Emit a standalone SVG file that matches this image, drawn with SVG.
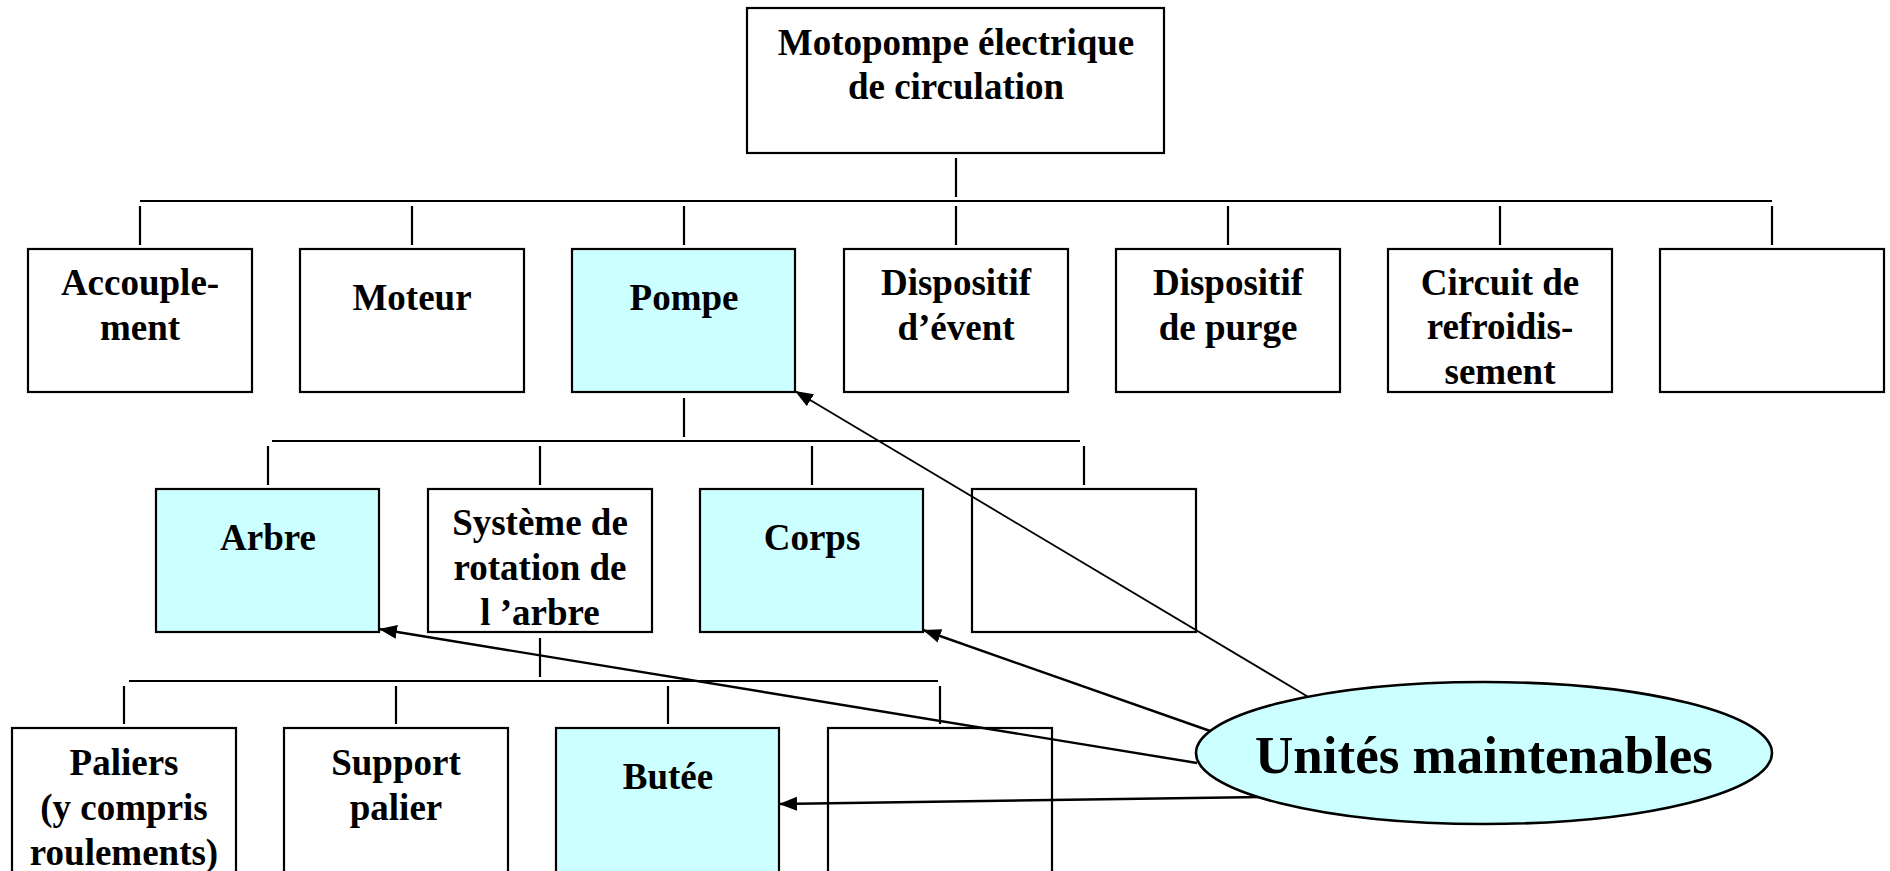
<svg xmlns="http://www.w3.org/2000/svg" width="1890" height="871" viewBox="0 0 1890 871">
<style>
.box{fill:#ffffff;stroke:#000;stroke-width:2.2}
.hl{fill:#ccffff}
.t{font-family:"Liberation Serif","Times New Roman",serif;font-weight:bold;font-size:37px;text-anchor:middle;fill:#000}
.big{font-size:53px}
.ln{stroke:#000;stroke-width:2.2;fill:none}
.ar{stroke:#000;stroke-width:2.4;fill:none;marker-end:url(#ah)}
</style>
<defs>
<marker id="ah" markerUnits="userSpaceOnUse" markerWidth="20" markerHeight="16" refX="18" refY="7" orient="auto">
<path d="M0,0 L18,7 L0,14 z" fill="#000"/>
</marker>
</defs>
<rect width="1890" height="871" fill="#fff"/>

<g id="connectors">
<line class="ln" x1="956" y1="158" x2="956" y2="197"/>
<line class="ln" x1="140" y1="201" x2="1772" y2="201"/>
<line class="ln" x1="140" y1="206" x2="140" y2="245"/>
<line class="ln" x1="412" y1="206" x2="412" y2="245"/>
<line class="ln" x1="684" y1="206" x2="684" y2="245"/>
<line class="ln" x1="956" y1="206" x2="956" y2="245"/>
<line class="ln" x1="1228" y1="206" x2="1228" y2="245"/>
<line class="ln" x1="1500" y1="206" x2="1500" y2="245"/>
<line class="ln" x1="1772" y1="206" x2="1772" y2="245"/>

<line class="ln" x1="684" y1="398" x2="684" y2="437"/>
<line class="ln" x1="272" y1="441" x2="1080" y2="441"/>
<line class="ln" x1="268" y1="446" x2="268" y2="485"/>
<line class="ln" x1="540" y1="446" x2="540" y2="485"/>
<line class="ln" x1="812" y1="446" x2="812" y2="485"/>
<line class="ln" x1="1084" y1="446" x2="1084" y2="485"/>

<line class="ln" x1="540" y1="638" x2="540" y2="677"/>
<line class="ln" x1="129" y1="681" x2="938" y2="681"/>
<line class="ln" x1="124" y1="686" x2="124" y2="724"/>
<line class="ln" x1="396" y1="686" x2="396" y2="724"/>
<line class="ln" x1="668" y1="686" x2="668" y2="724"/>
<line class="ln" x1="940" y1="686" x2="940" y2="724"/>
</g>

<g id="n-top"><rect class="box" x="747" y="8" width="417" height="145"/>
<text class="t" x="956" y="55">Motopompe électrique</text><text class="t" x="956" y="99">de circulation</text></g>

<g id="n-accouplement"><rect class="box" x="28" y="249" width="224" height="143"/>
<text class="t" x="140" y="295">Accouple-</text><text class="t" x="140" y="340">ment</text></g>
<g id="n-moteur"><rect class="box" x="300" y="249" width="224" height="143"/>
<text class="t" x="412" y="310">Moteur</text></g>
<g id="n-pompe"><rect class="box hl" x="572" y="249" width="223" height="143"/>
<text class="t" x="684" y="310">Pompe</text></g>
<g id="n-event"><rect class="box" x="844" y="249" width="224" height="143"/>
<text class="t" x="956" y="295">Dispositif</text><text class="t" x="956" y="340">d’évent</text></g>
<g id="n-purge"><rect class="box" x="1116" y="249" width="224" height="143"/>
<text class="t" x="1228" y="295">Dispositif</text><text class="t" x="1228" y="340">de purge</text></g>
<g id="n-circuit"><rect class="box" x="1388" y="249" width="224" height="143"/>
<text class="t" x="1500" y="295">Circuit de</text><text class="t" x="1500" y="339">refroidis-</text><text class="t" x="1500" y="384">sement</text></g>
<g id="n-empty1"><rect class="box" x="1660" y="249" width="224" height="143"/></g>

<g id="n-arbre"><rect class="box hl" x="156" y="489" width="223" height="143"/>
<text class="t" x="268" y="550">Arbre</text></g>
<g id="n-systeme"><rect class="box" x="428" y="489" width="224" height="143"/>
<text class="t" x="540" y="535">Système de</text><text class="t" x="540" y="580">rotation de</text><text class="t" x="540" y="625">l ’arbre</text></g>
<g id="n-corps"><rect class="box hl" x="700" y="489" width="223" height="143"/>
<text class="t" x="812" y="550">Corps</text></g>
<g id="n-empty2"><rect class="box" x="972" y="489" width="224" height="143"/></g>

<g id="n-paliers"><rect class="box" x="12" y="728" width="224" height="160"/>
<text class="t" x="124" y="775">Paliers</text><text class="t" x="124" y="820">(y compris</text><text class="t" x="124" y="865">roulements)</text></g>
<g id="n-support"><rect class="box" x="284" y="728" width="224" height="160"/>
<text class="t" x="396" y="775">Support</text><text class="t" x="396" y="820">palier</text></g>
<g id="n-butee"><rect class="box hl" x="556" y="728" width="223" height="160"/>
<text class="t" x="668" y="789">Butée</text></g>
<g id="n-empty3"><rect class="box" x="828" y="728" width="224" height="160"/></g>

<g id="arrows">
<line class="ar" x1="1310" y1="698" x2="795" y2="391" style="stroke-width:1.8"/>
<line class="ar" x1="1197" y1="763" x2="379" y2="629"/>
<line class="ar" x1="1213" y1="732" x2="923" y2="630"/>
<line class="ar" x1="1263" y1="797" x2="779" y2="804"/>
</g>

<g id="n-unites"><ellipse cx="1484" cy="753" rx="288" ry="71" fill="#ccffff" stroke="#000" stroke-width="2.6"/>
<text class="t big" x="1484" y="773">Unités maintenables</text></g>
</svg>
